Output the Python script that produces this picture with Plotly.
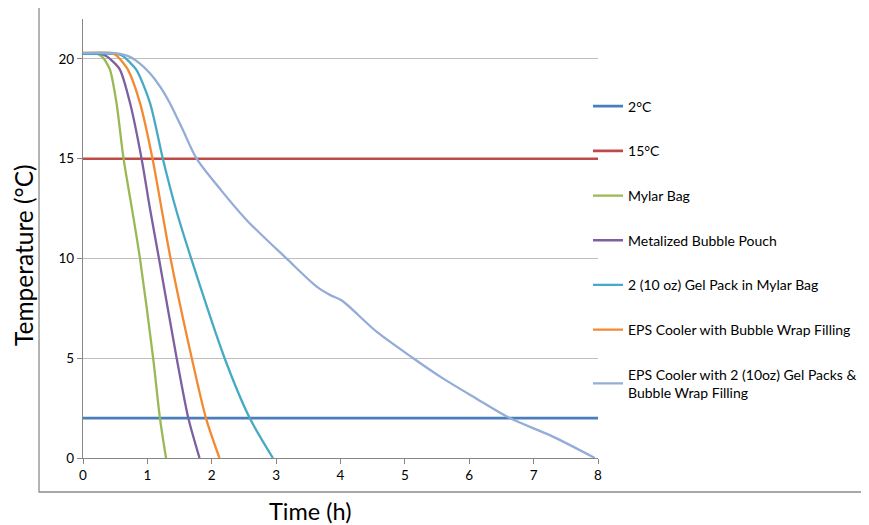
import plotly.graph_objects as go

# ---- data ----
ref_t = [0, 8]
ref_2c = [2, 2]
ref_15c = [15, 15]

mylar_t = [0, 0.22, 0.30, 0.37, 0.42, 0.52, 0.63, 0.76, 0.885, 1.09, 1.195, 1.29]
mylar_T = [20.25, 20.25, 20.1, 19.78, 19.45, 17.8, 15, 12.5, 10, 5, 2, 0]

pouch_t = [0, 0.26, 0.36, 0.47, 0.575, 0.73, 0.91, 1.04, 1.18, 1.455, 1.636, 1.81]
pouch_T = [20.25, 20.25, 20.15, 19.85, 19.45, 17.8, 15, 12.5, 10, 5, 2, 0]

gel_t = [0, 0.52, 0.62, 0.72, 0.83, 1.04, 1.24, 1.45, 1.68, 2.20, 2.59, 2.95]
gel_T = [20.25, 20.25, 20.15, 19.85, 19.45, 17.8, 15, 12.4, 10, 5, 2, 0]

eps_t = [0, 0.42, 0.51, 0.60, 0.70, 0.885, 1.08, 1.22, 1.36, 1.69, 1.91, 2.12]
eps_T = [20.3, 20.3, 20.2, 19.9, 19.45, 17.8, 15, 12.5, 10, 5, 2, 0]

epsgel_t = [0, 0.45, 0.58, 0.73, 0.88, 1.04, 1.20, 1.35, 1.55, 1.765, 2.15, 2.54, 3.16, 3.63, 3.85, 4.02,
            4.56, 5.13, 5.59, 6.10, 6.63, 7.30, 7.95]
epsgel_T = [20.3, 20.3, 20.25, 20.1, 19.78, 19.28, 18.6, 17.78, 16.45, 15, 13.4, 11.93, 10, 8.59, 8.15, 7.89,
            6.33, 5, 3.99, 3.0, 2, 1.07, 0]

x_ticks = [0, 1, 2, 3, 4, 5, 6, 7, 8]
y_ticks = [0, 5, 10, 15, 20]

FONT = "Lato, 'Open Sans', sans-serif"

series = [
    ("2°C", ref_t, ref_2c, "#4A7EBB", "linear"),
    ("15°C", ref_t, ref_15c, "#BE4B48", "linear"),
    ("Mylar Bag", mylar_t, mylar_T, "#98B954", "spline"),
    ("Metalized Bubble Pouch", pouch_t, pouch_T, "#7D60A0", "spline"),
    ("2 (10 oz) Gel Pack in Mylar Bag", gel_t, gel_T, "#46AAC5", "spline"),
    ("EPS Cooler with Bubble Wrap Filling", eps_t, eps_T, "#F38A31", "spline"),
    ("EPS Cooler with 2 (10oz) Gel Packs &<br>Bubble Wrap Filling", epsgel_t, epsgel_T, "#93ADD7", "spline"),
]

fig = go.Figure()
for i, (name, xs, ys, col, shape) in enumerate(series):
    fig.add_trace(go.Scatter(
        x=xs, y=ys, name=name, mode="lines",
        line=dict(color=col, width=2.3 if shape == "spline" else 2.6, shape=shape, smoothing=0.8),
        legendgroup=f"g{i}", hoverinfo="skip",
    ))

fig.update_layout(
    width=869, height=525,
    margin=dict(l=75, r=279, t=11, b=75, autoexpand=False),
    paper_bgcolor="white", plot_bgcolor="white",
    font=dict(family=FONT, color="black", size=13),
    showlegend=True,
    legend=dict(
        x=0.9806, xanchor="left", y=0.837, yanchor="top",
        itemwidth=30, tracegroupgap=23.5,
        font=dict(family=FONT, size=14, color="black"),
        bgcolor="rgba(0,0,0,0)",
    ),
    xaxis=dict(
        range=[0, 8], tickvals=x_ticks, ticktext=[str(v) for v in x_ticks],
        showgrid=False, zeroline=False, automargin=False,
        showline=True, linecolor="#868686", linewidth=1.2,
        ticks="outside", ticklen=5, tickcolor="#868686",
        tickfont=dict(size=13.5, family=FONT),
    ),
    yaxis=dict(
        range=[0, 22], tickvals=y_ticks, ticktext=[str(v) for v in y_ticks],
        showgrid=True, gridcolor="#BFBFBF", gridwidth=1.2, zeroline=False, automargin=False,
        showline=True, linecolor="#868686", linewidth=1.2,
        ticks="outside", ticklen=5, tickcolor="#868686",
        tickfont=dict(size=13.5, family=FONT),
    ),
    annotations=[
        dict(text="Time (h)", xref="paper", yref="paper", x=0.4408, y=-0.1215,
             xanchor="center", yanchor="middle", showarrow=False,
             font=dict(size=23.5, family=FONT, color="black")),
        dict(text="Temperature (°C)", xref="paper", yref="paper", x=-0.1165, y=0.4624,
             xanchor="center", yanchor="middle", showarrow=False, textangle=-90,
             font=dict(size=24.5, family=FONT, color="black")),
    ],
    shapes=[dict(
        type="rect", xref="paper", yref="paper",
        x0=-0.0854, x1=1.7, y0=-0.0774, y1=1.0319,
        line=dict(color="#8C8C8C", width=1.3), fillcolor="rgba(0,0,0,0)", layer="below",
    )],
)

fig.write_html("out.html")
